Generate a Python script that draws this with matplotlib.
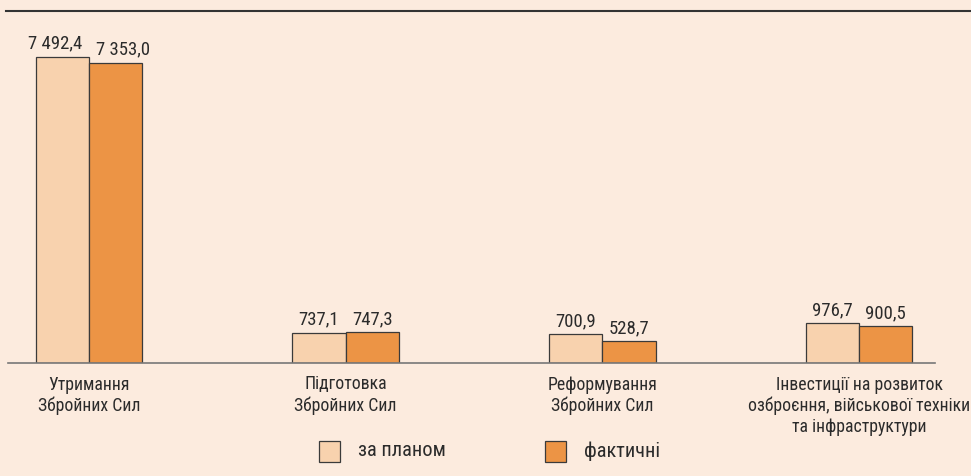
import numpy as np
import matplotlib.pyplot as plt
from matplotlib.lines import Line2D
from matplotlib.patches import Rectangle

categories = ["Утримання\nЗбройних Сил",
              "Підготовка\nЗбройних Сил",
              "Реформування\nЗбройних Сил",
              "Інвестиції на розвиток\nозброєння, військової техніки\nта інфраструктури"]
planned = [7492.4, 737.1, 700.9, 976.7]
actual = [7353.0, 747.3, 528.7, 900.5]
series_names = ["за планом", "фактичні"]

bg = "#FCEBDE"
light = "#F8D2AE"
dark = "#EC9445"
edge = "#3a3a3a"
text_col = "#2b2b2b"

plt.rcParams['font.family'] = ['Roboto Condensed', 'Liberation Sans Narrow', 'Roboto', 'DejaVu Sans']

W, H = 971, 476
fig = plt.figure(figsize=(W / 100, H / 100), dpi=100, facecolor=bg)

# axes placed so the baseline sits at y=363 px and spans x=8..935 px
ax = fig.add_axes([8 / W, (H - 363) / H, (935 - 8) / W, (363 - 11) / H])
ax.set_facecolor(bg)

x = np.arange(len(categories))
w = 0.208
ax.bar(x - w / 2, planned, w, color=light, edgecolor=edge, linewidth=0.9)
ax.bar(x + w / 2, actual, w, color=dark, edgecolor=edge, linewidth=0.9)

def fmt(v):
    return f"{v:,.1f}".replace(",", " ").replace(".", ",")

# the first pair of labels is pushed apart a little so they don't touch
nudge = [5, 0, 0, 0]
for i in range(len(x)):
    ax.annotate(fmt(planned[i]), (x[i] - w / 2, planned[i]), xytext=(-nudge[i], 3),
                textcoords='offset points', ha='center', va='bottom',
                fontsize=13.5, color=text_col)
    ax.annotate(fmt(actual[i]), (x[i] + w / 2, actual[i]), xytext=(nudge[i], 3),
                textcoords='offset points', ha='center', va='bottom',
                fontsize=13.5, color=text_col)

ax.set_xlim(-0.316, 3.296)
ax.set_ylim(0, 8618)
for s in ['top', 'right', 'left']:
    ax.spines[s].set_visible(False)
ax.spines['bottom'].set_color('#777777')
ax.spines['bottom'].set_linewidth(1.2)
ax.set_yticks([])
ax.set_xticks(x)
ax.set_xticklabels(categories, fontsize=12.8, color=text_col, linespacing=1.2)
ax.tick_params(axis='x', length=0, pad=9)
# last label sits a touch left of its group in the original
ax.get_xticklabels()[-1].set_x(x[-1] - 0.015)

# top rule
fig.add_artist(Line2D([6 / W, 1], [(H - 11) / H] * 2, color='#333333', linewidth=1.5))

# legend
ly = (H - 451) / H
sq = 21
for px, col, name in [(319, light, series_names[0]), (545, dark, series_names[1])]:
    fig.add_artist(Rectangle((px / W, ly - sq / 2 / H), sq / W, sq / H,
                             facecolor=col, edgecolor=edge, linewidth=0.9,
                             transform=fig.transFigure))
    fig.text((px + 39) / W, ly, name, ha='left', va='center', fontsize=14.7, color=text_col)

fig.savefig("out.png", dpi=100, facecolor=bg)
